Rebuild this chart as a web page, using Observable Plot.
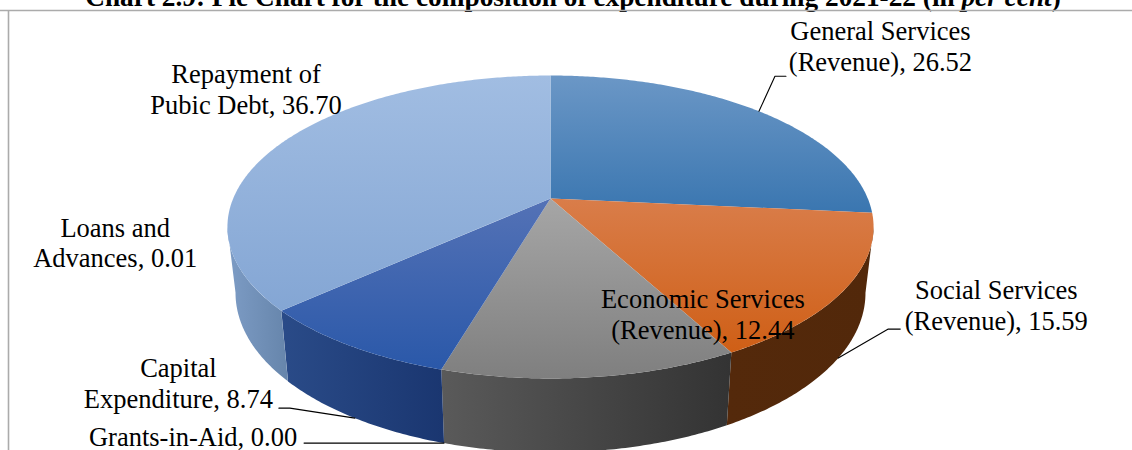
<!DOCTYPE html>
<html>
<head>
<meta charset="utf-8">
<script src="https://cdn.jsdelivr.net/npm/d3@7"></script>
<script src="https://cdn.jsdelivr.net/npm/@observablehq/plot@0.6"></script>
<style>
html,body{margin:0;padding:0;background:#fff;overflow:hidden;width:1132px;height:450px}
#wrap{position:relative;width:1132px;height:450px;overflow:hidden}
#title{position:absolute;left:0;width:1146px;top:-16.5px;text-align:center;font:bold 27.3px/27px "Liberation Serif",serif;color:#000;white-space:nowrap}
svg{position:absolute;left:0;top:0;font-family:"Liberation Serif",serif}
</style>
</head>
<body>
<div id="wrap"><div id="title">Chart 2.9: Pie Chart for the composition of expenditure during 2021-22 (in <i>per cent</i>)</div><div id="chart"></div></div>
<script>
// Data (per cent), clockwise from 12 o'clock
const categories = ["General Services (Revenue)", "Social Services (Revenue)", "Economic Services (Revenue)", "Grants-in-Aid", "Capital Expenditure", "Loans and Advances", "Repayment of Pubic Debt"];
const values = [26.52, 15.59, 12.44, 0.00, 8.74, 0.01, 36.70];
const labelLines = [
  ["General Services", "(Revenue), 26.52"],
  ["Social Services", "(Revenue), 15.59"],
  ["Economic Services", "(Revenue), 12.44"],
  ["Grants-in-Aid, 0.00"],
  ["Capital", "Expenditure, 8.74"],
  ["Loans and", "Advances, 0.01"],
  ["Repayment of", "Pubic Debt, 36.70"]
];

// Styles
const topColors = [["#6b97c6","#3a76b0"],["#d97d4a","#cf5f16"],["#a6a6a6","#7f7f7f"],["#888","#888"],["#5472b6","#2a58a9"],["#8aa9d6","#8aa9d6"],["#a1bde2","#84a6d4"]];
const wallColors = [["#3a6a9a","#3a6a9a"],["#54290b","#52280a"],["#5a5a5a","#333333"],["#444","#444"],["#2a4b88","#1a3670"],["#7796bd","#7796bd"],["#7d9cc5","#6685ab"]];

// Perspective view of the pie: options for mapping the flat disc to the page
const view = {cx: 550, cy: 198, A: 317.3, B: 146.1, k: 0.188, foot: 0.975, depth: 64, depthV: 10};
function top3d(theta) {
  const u = Math.sin(theta), v = -Math.cos(theta), w = 1 - view.k * v;
  return {x: view.cx + view.A * u / w, y: view.cy + view.B * v / w, v};
}
function foot3d(theta) {
  const p = top3d(theta);
  return {x: view.cx + view.foot * (p.x - view.cx), y: p.y + view.depth + view.depthV * p.v};
}
const total = d3.sum(values);
const cum = d3.cumsum(values);
const tau = 2 * Math.PI;
const slices = values.map((val, i) => {
  const a0 = (cum[i] - val) / total * tau, a1 = cum[i] / total * tau;
  return {i, name: categories[i], val, a0, a1, mid: (a0 + a1) / 2};
});
const arcAngles = (a0, a1) => {
  const n = Math.max(2, Math.ceil((a1 - a0) / 0.01));
  return d3.range(n + 1).map(j => a0 + (a1 - a0) * j / n);
};
const topPoly = s => [{x: view.cx, y: view.cy}, ...arcAngles(s.a0, s.a1).map(top3d)];
// Only the rim between the two silhouette angles of the disc is visible
const frontFrom = Math.acos(-view.k), frontTo = tau - frontFrom;
const wallPoly = s => {
  const a0 = Math.max(s.a0, frontFrom), a1 = Math.min(s.a1, frontTo);
  if (a1 <= a0) return [];
  const as = arcAngles(a0, a1);
  return [...as.map(top3d), ...as.slice().reverse().map(foot3d)];
};

const marks = [
  Plot.ruleY([10], {stroke: "#ababab", strokeWidth: 1.6}),
  Plot.ruleX([8], {y1: 10, y2: 450, stroke: "#ababab", strokeWidth: 1.6})
];
// walls first, tops over them
for (const s of slices) marks.push(Plot.line(wallPoly(s), {x: "x", y: "y", fill: `url(#wall${s.i})`, stroke: "none"}));
for (const s of slices) marks.push(Plot.line(topPoly(s), {x: "x", y: "y", fill: `url(#top${s.i})`, stroke: "none"}));

// Leader lines: rim anchor of the slice, then layout offsets for elbow and end
const leaders = [
  {i: 0, from: s => top3d(s.mid), off: [[16, -35], [27, -35]]},
  {i: 1, from: s => foot3d(s.mid), off: [[50, -29], [62, -29]]},
  {i: 3, from: s => foot3d(s.mid), off: [[-140, 0]]},
  {i: 4, from: s => foot3d(s.mid), off: [[-65, -10], [-76, -10]]}
];
for (const l of leaders) {
  const p = l.from(slices[l.i]);
  const pts = [p, ...l.off.map(([dx, dy]) => ({x: p.x + dx, y: p.y + dy}))];
  marks.push(Plot.line(pts, {x: "x", y: "y", stroke: "#000", strokeWidth: 1.1}));
}

// Labels: anchored on the slice's rim point, placed with layout offsets
const labelPlace = [
  {anchor: top3d, dx: 121.5, dy: -71},
  {anchor: foot3d, dx: 158, dy: -59},
  {anchor: foot3d, dx: 112.5, dy: -143},
  {anchor: foot3d, dx: -251, dy: 3},
  {anchor: foot3d, dx: -176.5, dy: -41},
  {anchor: top3d, dx: -166, dy: -74},
  {anchor: top3d, dx: -35, dy: -60}
];
const labelRows = [];
slices.forEach(s => {
  const pl = labelPlace[s.i], p = pl.anchor(s.mid);
  labelLines[s.i].forEach((t, j) => labelRows.push({t, x: p.x + pl.dx, y: p.y + pl.dy + j * 30.6}));
});
marks.push(Plot.text(labelRows, {x: "x", y: "y", text: "t", textAnchor: "middle", lineAnchor: "bottom", fontSize: 26.5, fontFamily: "Liberation Serif", fill: "#000"}));

const plot = Plot.plot({
  width: 1132, height: 450, margin: 0,
  x: {domain: [0, 1132], range: [0, 1132], axis: null},
  y: {domain: [0, 450], range: [0, 450], axis: null},
  style: {background: "transparent", overflow: "hidden"},
  marks
});
const defs = d3.select(plot).insert("svg:defs", ":first-child");
function grad(id, [c0, c1], horizontal) {
  const g = defs.append("linearGradient").attr("id", id)
    .attr("x1", 0).attr("y1", 0).attr("x2", horizontal ? 1 : 0).attr("y2", horizontal ? 0 : 1);
  g.append("stop").attr("offset", 0).attr("stop-color", c0);
  g.append("stop").attr("offset", 1).attr("stop-color", c1);
}
topColors.forEach((c, i) => grad(`top${i}`, c, false));
wallColors.forEach((c, i) => grad(`wall${i}`, c, true));
document.getElementById("chart").append(plot);
</script>
</body>
</html>
